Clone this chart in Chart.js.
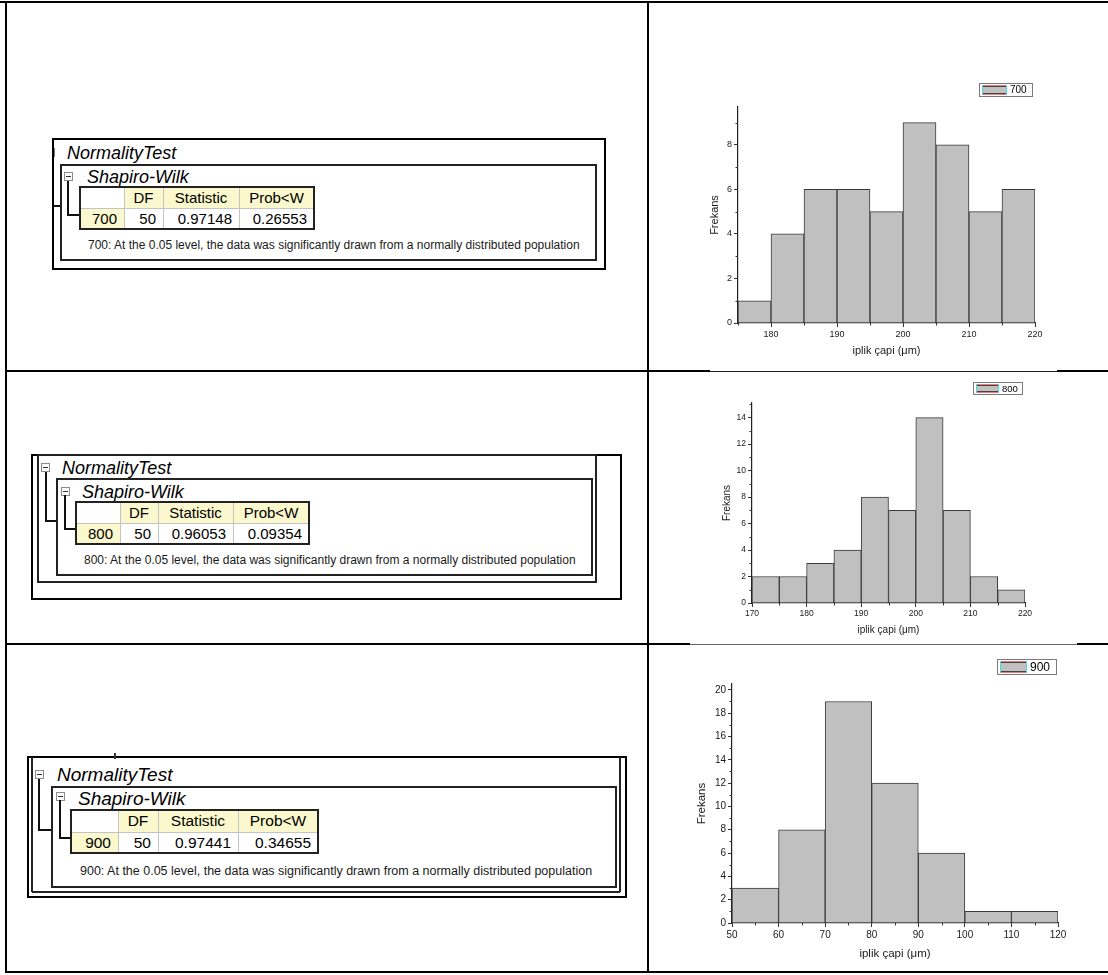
<!DOCTYPE html>
<html><head><meta charset="utf-8">
<script src="https://cdn.jsdelivr.net/npm/chart.js@4.4.1/dist/chart.umd.min.js"></script>
<style>
body{margin:0;background:#fff;}
#page{position:relative;width:1108px;height:975px;overflow:hidden;font-family:"Liberation Sans",Arial,sans-serif;color:#000;}
.ln{position:absolute;}
.t{position:absolute;white-space:nowrap;}
.cell{position:absolute;box-sizing:border-box;white-space:nowrap;}
.tog{position:absolute;width:9px;height:9px;box-sizing:border-box;border:1px solid #8c8c8c;background:#fff;}
.tog::after{content:"";position:absolute;left:1px;right:1px;top:3px;height:1px;background:#333;}
canvas{position:absolute;}
</style></head>
<body><div id="page"></div>
<script>
// ---------- data ----------
const seriesNames = ['700', '800', '900'];
const dfValues = [50, 50, 50];
const statValues = ['0.97148', '0.96053', '0.97441'];
const probValues = ['0.26553', '0.09354', '0.34655'];
const tableHeaders = ['DF', 'Statistic', 'Prob<W'];
const noteText = ': At the 0.05 level, the data was significantly drawn from a normally distributed population';

const binEdges700 = [175, 180, 185, 190, 195, 200, 205, 210, 215, 220];
const counts700 = [1, 4, 6, 6, 5, 9, 8, 5, 6];
const xTicks700 = [180, 190, 200, 210, 220];
const yTicks700 = [0, 2, 4, 6, 8];

const binEdges800 = [170, 175, 180, 185, 190, 195, 200, 205, 210, 215, 220];
const counts800 = [2, 2, 3, 4, 8, 7, 14, 7, 2, 1];
const xTicks800 = [170, 180, 190, 200, 210, 220];
const yTicks800 = [0, 2, 4, 6, 8, 10, 12, 14];

const binEdges900 = [50, 60, 70, 80, 90, 100, 110, 120];
const counts900 = [3, 8, 19, 12, 6, 1, 1];
const xTicks900 = [50, 60, 70, 80, 90, 100, 110, 120];
const yTicks900 = [0, 2, 4, 6, 8, 10, 12, 14, 16, 18, 20];

const xTitle = 'iplik çapi (μm)';
const yTitle = 'Frekans';

// ---------- helpers ----------
const page = document.getElementById('page');
function el(cls, css, txt) {
  const d = document.createElement('div');
  d.className = cls;
  Object.assign(d.style, css);
  if (txt != null) d.textContent = txt;
  page.appendChild(d);
  return d;
}
function hline(x1, x2, y, w, c) { el('ln', {left: x1 + 'px', top: (y - w / 2) + 'px', width: (x2 - x1) + 'px', height: w + 'px', background: c || '#000'}); }
function vline(x, y1, y2, w, c) { el('ln', {left: (x - w / 2) + 'px', top: y1 + 'px', width: w + 'px', height: (y2 - y1) + 'px', background: c || '#000'}); }
function rect(l, t, r, b, w, c) { hline(l - w / 2, r + w / 2, t, w, c); hline(l - w / 2, r + w / 2, b, w, c); vline(l, t, b, w, c); vline(r, t, b, w, c); }
function text(x, cy, size, str, extra) {
  const h = Math.round(size * 1.3);
  el('t', Object.assign({left: x + 'px', top: (cy - h / 2) + 'px', height: h + 'px', lineHeight: h + 'px', fontSize: size + 'px'}, extra || {}), str);
}
function tog(x, y) { el('tog', {left: x + 'px', top: y + 'px'}); }

// ---------- page grid ----------
hline(0, 1108, 2, 2);
vline(6, 1, 973, 2);
hline(5, 1108, 972, 2);
vline(648, 1, 973, 2);
hline(5, 1108, 371, 2);
hline(5, 1108, 644, 2);

// ---------- normality test panels ----------
const panels = [
  {frames: [[53, 139, 605, 269, 2, '#000']], extra: () => { vline(54, 148, 157, 1, '#777'); hline(53, 61, 206, 1.5, '#111'); },
   tog1: null, title: [67, 153, 18], sh: [61, 165, 596, 260], tog2: [64, 172], sw: [87, 177, 18],
   tree2: [68, 181, 215, 80], tx: 80, ty: 187, cols: [44, 39, 76, 75], rows: [21, 21], cf: 15, note: [88, 245, 12]},
  {frames: [[32, 455, 621, 599, 2, '#000'], [38, 455, 596, 582, 1.5, '#222']], extra: () => {},
   tog1: [41, 463], tree1: [46, 472, 521, 57], title: [62, 468, 18], sh: [57, 479, 592, 575], tog2: [61, 487], sw: [82, 492, 18],
   tree2: [65, 495, 529, 76], tx: 76, ty: 502, cols: [44, 38, 75, 76], rows: [21, 21], cf: 15, note: [84, 560, 12]},
  {frames: [[28, 757, 626, 897, 2, '#000']], extra: () => { vline(32, 757, 892, 1.5, '#222'); vline(620, 757, 892, 1.5, '#222'); hline(32, 620, 892, 1.5, '#222'); vline(115, 753, 759, 1.2, '#333'); },
   tog1: [35, 770], tree1: [39, 779, 830, 52], title: [57, 774, 19], sh: [52, 787, 616, 887], tog2: [56, 792], sw: [78, 798, 19],
   tree2: [60, 800, 838, 71], tx: 71, ty: 810, cols: [47, 40, 80, 80], rows: [22, 21], cf: 15.5, note: [80, 871, 12.5]}
];

panels.forEach((p, i) => {
  p.frames.forEach(f => rect(f[0], f[1], f[2], f[3], f[4], f[5]));
  p.extra();
  if (p.tog1) {
    tog(p.tog1[0], p.tog1[1]);
    vline(p.tree1[0], p.tree1[1], p.tree1[2], 1.5, '#111');
    hline(p.tree1[0] - 0.75, p.tree1[3], p.tree1[2], 1.5, '#111');
  }
  text(p.title[0], p.title[1], p.title[2], 'NormalityTest', {fontStyle: 'italic'});
  rect(p.sh[0], p.sh[1], p.sh[2], p.sh[3], 1.5, '#222');
  tog(p.tog2[0], p.tog2[1]);
  text(p.sw[0], p.sw[1], p.sw[2], 'Shapiro-Wilk', {fontStyle: 'italic'});
  vline(p.tree2[0], p.tree2[1], p.tree2[2], 1.5, '#111');
  hline(p.tree2[0] - 0.75, p.tree2[3], p.tree2[2], 1.5, '#111');
  // table
  const xs = [p.tx]; p.cols.forEach(w => xs.push(xs[xs.length - 1] + w));
  const ys = [p.ty]; p.rows.forEach(h => ys.push(ys[ys.length - 1] + h));
  const cellText = [['', ...tableHeaders], [seriesNames[i], String(dfValues[i]), statValues[i], probValues[i]]];
  for (let r = 0; r < 2; r++) {
    for (let c = 0; c < 4; c++) {
      const yellow = (r === 0 && c > 0) || (r === 1 && c === 0);
      const h = ys[r + 1] - ys[r];
      el('cell', {left: xs[c] + 'px', top: ys[r] + 'px', width: (xs[c + 1] - xs[c]) + 'px', height: h + 'px',
        lineHeight: h + 'px', fontSize: p.cf + 'px', background: yellow ? '#faf8cc' : '#fff',
        textAlign: r === 0 ? 'center' : 'right', paddingRight: r === 0 ? '0' : '7px'}, cellText[r][c]);
    }
  }
  for (let c = 1; c < 4; c++) vline(xs[c], ys[0], ys[2], 1, '#c4c4c4');
  hline(xs[0], xs[4], ys[1], 1, '#c4c4c4');
  rect(xs[0], ys[0], xs[4], ys[2], 1.5, '#222');
  text(p.note[0], p.note[1], p.note[2], seriesNames[i] + noteText, {color: '#1a1a1a'});
});

// ---------- histograms ----------
const FONT = "'Liberation Sans', Arial, sans-serif";
function minorOf(ticks, lo, hi) {
  const step = ticks[1] - ticks[0];
  const out = [];
  for (let v = ticks[0] - step / 2; v <= hi + 1e-9; v += step) if (v >= lo - 1e-9) out.push(v);
  return out;
}
function histChart(cfg) {
  const b = cfg.box, a = cfg.area;
  const cv = document.createElement('canvas');
  cv.width = b.w; cv.height = b.h;
  cv.style.left = b.x + 'px'; cv.style.top = b.y + 'px';
  cv.style.width = b.w + 'px'; cv.style.height = b.h + 'px';
  page.appendChild(cv);
  const lh = cfg.titleSize * 1.2;
  const padLeft = cfg.yTitleX - lh / 2 - b.x;
  const yAxisW = a.l - b.x - padLeft;
  const xAxisH = cfg.xTitleY + lh / 2 - a.b;
  const padBottom = b.y + b.h - a.b - xAxisH;
  const edges = cfg.edges;
  const data = cfg.counts.map((c, i) => ({x: (edges[i] + edges[i + 1]) / 2, y: c}));
  const xMinor = minorOf(cfg.xTicks, edges[0], edges[edges.length - 1]);
  const yMinor = minorOf(cfg.yTicks, 0, cfg.yMax);
  const extras = {
    id: 'extras' + cfg.name,
    afterDraw(chart) {
      const ctx = chart.ctx, xs = chart.scales.x, ysc = chart.scales.y;
      ctx.save();
      ctx.strokeStyle = '#333'; ctx.lineWidth = 1;
      xMinor.forEach(v => { const px = Math.round(xs.getPixelForValue(v)) + 0.5; ctx.beginPath(); ctx.moveTo(px, xs.top); ctx.lineTo(px, xs.top + 2.5); ctx.stroke(); });
      yMinor.forEach(v => { const py = Math.round(ysc.getPixelForValue(v)) + 0.5; ctx.beginPath(); ctx.moveTo(ysc.right, py); ctx.lineTo(ysc.right - 2.5, py); ctx.stroke(); });
      // legend box
      const L = cfg.legend;
      const lx = L.x - b.x, ly = L.y - b.y;
      ctx.fillStyle = '#fff'; ctx.fillRect(lx, ly, L.w, L.h);
      ctx.strokeStyle = '#7a7a7a'; ctx.strokeRect(lx + 0.5, ly + 0.5, L.w - 1, L.h - 1);
      const sx = lx + 3, sy = ly + 2, sw = L.sw, sh = L.h - 4;
      ctx.fillStyle = '#c0c0c0'; ctx.fillRect(sx, sy, sw, sh);
      ctx.strokeStyle = '#444'; ctx.strokeRect(sx + 0.5, sy + 1.5, sw - 1, sh - 3);
      ctx.strokeStyle = '#f07878';
      ctx.beginPath(); ctx.moveTo(sx, sy + 0.5); ctx.lineTo(sx + sw, sy + 0.5); ctx.moveTo(sx, sy + sh - 0.5); ctx.lineTo(sx + sw, sy + sh - 0.5); ctx.stroke();
      ctx.strokeStyle = '#50d8e8';
      ctx.beginPath(); ctx.moveTo(sx + 0.5, sy); ctx.lineTo(sx + 0.5, sy + sh); ctx.moveTo(sx + sw - 0.5, sy); ctx.lineTo(sx + sw - 0.5, sy + sh); ctx.stroke();
      ctx.fillStyle = '#000'; ctx.font = L.fs + 'px ' + FONT; ctx.textBaseline = 'middle'; ctx.textAlign = 'left';
      ctx.fillText(chart.data.datasets[0].label, sx + sw + 3, ly + L.h / 2 + 0.5);
      ctx.restore();
    }
  };
  new Chart(cv, {
    type: 'bar',
    data: {datasets: [{label: cfg.name, data, backgroundColor: '#c0c0c0', borderColor: '#3a3a3a', borderWidth: 1,
      barPercentage: 1, categoryPercentage: 1, borderSkipped: 'bottom'}]},
    options: {
      responsive: false, animation: false, devicePixelRatio: 1,
      layout: {padding: {left: padLeft, top: a.t - b.y, right: b.x + b.w - a.r, bottom: padBottom}},
      plugins: {legend: {display: false}, tooltip: {enabled: false}},
      scales: {
        x: {type: 'linear', offset: false, min: edges[0], max: edges[edges.length - 1],
          afterBuildTicks: s => { s.ticks = cfg.xTicks.map(v => ({value: v})); },
          afterFit: s => { s.height = xAxisH; },
          grid: {drawOnChartArea: false, offset: false, tickLength: 4, color: '#333'},
          border: {color: '#222', width: 1.2},
          ticks: {font: {family: FONT, size: cfg.tickSize}, color: '#1a1a1a', padding: 2, maxRotation: 0, autoSkip: false},
          title: {display: true, text: xTitle, font: {family: FONT, size: cfg.titleSize}, color: '#1a1a1a', padding: 0}},
        y: {min: 0, max: cfg.yMax,
          afterBuildTicks: s => { s.ticks = cfg.yTicks.map(v => ({value: v})); },
          afterFit: s => { s.width = yAxisW; },
          grid: {drawOnChartArea: false, tickLength: 4, color: '#333'},
          border: {color: '#222', width: 1.2},
          ticks: {font: {family: FONT, size: cfg.tickSize}, color: '#1a1a1a', padding: 2, autoSkip: false},
          title: {display: true, text: yTitle, font: {family: FONT, size: cfg.titleSize}, color: '#1a1a1a', padding: 0}}
      }
    },
    plugins: [extras]
  });
}

histChart({name: seriesNames[0], edges: binEdges700, counts: counts700, xTicks: xTicks700, yTicks: yTicks700, yMax: 9.7,
  box: {x: 652, y: 60, w: 450, h: 305}, area: {l: 738, t: 107, r: 1035, b: 323}, yTitleX: 715, xTitleY: 351,
  titleSize: 11, tickSize: 9, legend: {x: 979, y: 83, w: 54, h: 14, sw: 25, fs: 10}});
histChart({name: seriesNames[1], edges: binEdges800, counts: counts800, xTicks: xTicks800, yTicks: yTicks800, yMax: 15.1,
  box: {x: 652, y: 375, w: 450, h: 265}, area: {l: 752, t: 403, r: 1025, b: 603}, yTitleX: 727, xTitleY: 630,
  titleSize: 10, tickSize: 8.5, legend: {x: 973, y: 382, w: 50, h: 13, sw: 23, fs: 9.5}});
histChart({name: seriesNames[2], edges: binEdges900, counts: counts900, xTicks: xTicks900, yTicks: yTicks900, yMax: 20.5,
  box: {x: 652, y: 650, w: 450, h: 318}, area: {l: 732, t: 684, r: 1058, b: 923}, yTitleX: 702, xTitleY: 954,
  titleSize: 11.5, tickSize: 10, legend: {x: 997, y: 659, w: 60, h: 16, sw: 27, fs: 12}});

// thin overlay segments where the chart images meet the row lines
hline(710, 1057, 371, 2, '#fff'); hline(710, 1057, 371, 1, '#222');
hline(690, 1077, 644, 2, '#fff'); hline(690, 1077, 644, 1, '#666');
</script>
</body></html>
